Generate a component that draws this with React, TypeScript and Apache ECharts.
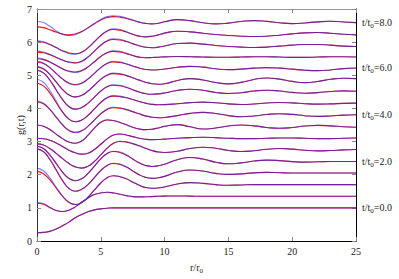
import React, { useEffect, useRef } from 'react';
import * as echarts from 'echarts';

// r/r0 sample positions (half steps up to 10, unit steps after)
const rValues = [0, 0.5, 1, 1.5, 2, 2.5, 3, 3.5, 4, 4.5, 5, 5.5, 6, 6.5, 7, 7.5, 8, 8.5, 9, 9.5, 10,
  11, 12, 13, 14, 15, 16, 17, 18, 19, 20, 21, 22, 23, 24, 25];

// vertical shift of each curve (t/t0 = 0.0, 0.5, ..., 8.0)
const shift = [0, 0.35, 0.7, 1.05, 1.4, 1.75, 2.1, 2.45, 2.8, 3.15, 3.5, 3.85, 4.2, 4.55, 4.9, 5.25, 5.6];

// g(r,t), red set
const gRed = [
  [0.25, 0.26, 0.29, 0.36, 0.46, 0.57, 0.70, 0.80, 0.88, 0.94, 0.97, 0.99, 1.00, 1.00, 1.00, 1.00, 1.00, 1.00, 1.00, 1.00, 1.00, 1.00, 1.00, 1.00, 1.00, 1.00, 1.00, 1.00, 1.00, 1.00, 1.00, 1.00, 1.00, 1.00, 1.00, 1.00],
  [0.79, 0.76, 0.66, 0.57, 0.54, 0.58, 0.68, 0.82, 0.95, 1.05, 1.10, 1.12, 1.10, 1.06, 1.02, 0.99, 0.98, 0.985, 0.99, 1.00, 1.005, 1.01, 1.005, 1.00, 1.00, 1.00, 1.00, 1.00, 1.00, 1.00, 1.00, 1.00, 1.00, 1.00, 1.00, 1.00],
  [1.40, 1.33, 1.15, 0.90, 0.65, 0.47, 0.40, 0.46, 0.62, 0.84, 1.05, 1.21, 1.27, 1.24, 1.175, 1.08, 0.985, 0.915, 0.89, 0.90, 0.93, 1.02, 1.06, 1.04, 1.00, 0.98, 0.99, 1.00, 1.00, 1.00, 1.00, 1.00, 1.00, 1.00, 1.00, 1.00],
  [1.73, 1.645, 1.41, 1.09, 0.77, 0.535, 0.45, 0.51, 0.66, 0.87, 1.08, 1.23, 1.29, 1.26, 1.18, 1.065, 0.95, 0.87, 0.84, 0.857, 0.90, 1.03, 1.09, 1.06, 0.99, 0.96, 0.975, 1.005, 1.02, 1.01, 1.00, 1.00, 1.00, 1.00, 1.00, 1.00],
  [1.46, 1.39, 1.20, 0.94, 0.68, 0.49, 0.42, 0.48, 0.64, 0.86, 1.08, 1.24, 1.30, 1.27, 1.19, 1.075, 0.96, 0.88, 0.85, 0.868, 0.918, 1.053, 1.12, 1.073, 0.978, 0.93, 0.958, 1.013, 1.04, 1.025, 0.995, 0.98, 0.99, 1.00, 1.00, 1.00],
  [1.18, 1.144, 1.043, 0.896, 0.734, 0.587, 0.486, 0.45, 0.503, 0.65, 0.85, 1.05, 1.197, 1.25, 1.234, 1.188, 1.122, 1.048, 0.982, 0.936, 0.92, 0.96, 1.04, 1.08, 1.048, 0.983, 0.95, 0.973, 1.018, 1.04, 1.023, 0.988, 0.97, 0.98, 1.00, 1.01],
  [1.00, 0.985, 0.94, 0.86, 0.75, 0.64, 0.56, 0.52, 0.55, 0.66, 0.82, 0.98, 1.10, 1.13, 1.10, 1.05, 1.00, 0.97, 0.958, 0.962, 0.975, 1.00, 1.02, 1.03, 1.02, 1.00, 0.99, 0.99, 1.00, 1.01, 1.01, 1.00, 0.99, 0.99, 1.00, 1.01],
  [1.05, 1.013, 0.913, 0.775, 0.638, 0.537, 0.50, 0.567, 0.742, 0.958, 1.133, 1.20, 1.18, 1.128, 1.055, 0.983, 0.93, 0.91, 0.924, 0.962, 1.008, 1.06, 0.995, 0.93, 0.96, 1.02, 1.05, 1.025, 0.975, 0.95, 0.973, 1.018, 1.04, 1.025, 0.995, 0.98],
  [1.40, 1.339, 1.17, 0.94, 0.71, 0.54, 0.48, 0.53, 0.665, 0.85, 1.035, 1.17, 1.22, 1.205, 1.164, 1.103, 1.037, 0.976, 0.935, 0.92, 0.928, 0.982, 1.05, 1.08, 1.048, 0.983, 0.95, 0.973, 1.018, 1.04, 1.02, 0.98, 0.96, 0.973, 0.998, 1.01],
  [1.61, 1.532, 1.32, 1.03, 0.74, 0.528, 0.45, 0.501, 0.643, 0.835, 1.028, 1.17, 1.22, 1.207, 1.171, 1.119, 1.061, 1.009, 0.973, 0.96, 0.964, 0.991, 1.025, 1.04, 1.023, 0.988, 0.97, 0.985, 1.015, 1.03, 1.018, 0.993, 0.98, 0.988, 1.003, 1.01],
  [1.65, 1.572, 1.358, 1.065, 0.773, 0.558, 0.48, 0.528, 0.66, 0.84, 1.02, 1.152, 1.20, 1.182, 1.133, 1.065, 0.998, 0.948, 0.93, 0.94, 0.968, 1.043, 1.08, 1.048, 0.983, 0.95, 0.975, 1.025, 1.05, 1.028, 0.983, 0.96, 0.978, 1.013, 1.03, 1.02],
  [1.40, 1.34, 1.175, 0.95, 0.725, 0.56, 0.50, 0.547, 0.675, 0.85, 1.025, 1.153, 1.20, 1.184, 1.14, 1.076, 1.004, 0.94, 0.896, 0.88, 0.896, 0.991, 1.05, 1.01, 0.93, 0.89, 0.935, 1.025, 1.07, 1.035, 0.965, 0.93, 0.963, 1.028, 1.06, 1.05],
  [1.20, 1.155, 1.03, 0.86, 0.69, 0.565, 0.52, 0.565, 0.69, 0.86, 1.03, 1.155, 1.20, 1.184, 1.14, 1.08, 1.02, 0.976, 0.96, 0.967, 0.988, 1.043, 1.07, 1.045, 0.995, 0.97, 0.985, 1.015, 1.03, 1.017, 0.985, 0.953, 0.94, 0.96, 1.00, 1.02],
  [0.95, 0.923, 0.85, 0.75, 0.65, 0.577, 0.55, 0.591, 0.705, 0.86, 1.015, 1.128, 1.17, 1.152, 1.104, 1.046, 0.998, 0.98, 0.985, 0.995, 1.005, 1.015, 1.01, 1.00, 0.995, 0.995, 1.00, 1.01, 1.01, 1.00, 0.99, 0.99, 1.00, 1.01, 1.01, 1.00],
  [0.80, 0.779, 0.72, 0.64, 0.56, 0.501, 0.48, 0.527, 0.655, 0.83, 1.005, 1.133, 1.18, 1.163, 1.118, 1.055, 0.993, 0.947, 0.93, 0.95, 0.985, 1.06, 1.07, 1.04, 1.00, 0.97, 0.95, 0.94, 0.95, 0.98, 1.01, 1.03, 1.03, 1.01, 0.98, 0.97],
  [0.77, 0.745, 0.678, 0.585, 0.493, 0.425, 0.40, 0.449, 0.583, 0.765, 0.948, 1.081, 1.13, 1.109, 1.054, 0.986, 0.931, 0.91, 0.926, 0.969, 1.021, 1.08, 1.06, 1.02, 0.98, 0.95, 0.93, 0.92, 0.93, 0.96, 1.00, 1.03, 1.04, 1.02, 0.99, 0.97],
  [0.86, 0.837, 0.777, 0.703, 0.643, 0.62, 0.647, 0.723, 0.834, 0.956, 1.067, 1.143, 1.17, 1.155, 1.115, 1.06, 1.005, 0.965, 0.95, 0.969, 1.015, 1.08, 1.048, 0.983, 0.95, 0.975, 1.025, 1.05, 1.028, 0.983, 0.96, 0.978, 1.013, 1.03, 1.01, 0.99],
];

// g(r,t), blue set
const gBlue = [
  [0.25, 0.26, 0.29, 0.36, 0.46, 0.57, 0.70, 0.80, 0.88, 0.94, 0.97, 0.99, 1.00, 1.00, 1.00, 1.00, 1.00, 1.00, 1.00, 1.00, 1.00, 1.00, 1.00, 1.00, 1.00, 1.00, 1.00, 1.00, 1.00, 1.00, 1.00, 1.00, 1.00, 1.00, 1.00, 1.00],
  [0.81, 0.78, 0.67, 0.57, 0.54, 0.58, 0.68, 0.82, 0.95, 1.05, 1.10, 1.12, 1.10, 1.06, 1.02, 0.99, 0.98, 0.985, 0.99, 1.00, 1.005, 1.01, 1.005, 1.00, 1.00, 1.00, 1.00, 1.00, 1.00, 1.00, 1.00, 1.00, 1.00, 1.00, 1.00, 1.00],
  [1.50, 1.42, 1.21, 0.93, 0.66, 0.47, 0.40, 0.46, 0.62, 0.84, 1.05, 1.21, 1.27, 1.24, 1.175, 1.08, 0.985, 0.915, 0.89, 0.90, 0.93, 1.02, 1.06, 1.04, 1.00, 0.98, 0.99, 1.00, 1.00, 1.00, 1.00, 1.00, 1.00, 1.00, 1.00, 1.00],
  [1.73, 1.65, 1.43, 1.11, 0.785, 0.54, 0.45, 0.50, 0.645, 0.855, 1.07, 1.23, 1.295, 1.27, 1.19, 1.065, 0.95, 0.87, 0.84, 0.857, 0.90, 1.03, 1.09, 1.06, 0.99, 0.96, 0.975, 1.005, 1.02, 1.01, 1.00, 1.00, 1.00, 1.00, 1.00, 1.00],
  [1.46, 1.39, 1.20, 0.94, 0.68, 0.49, 0.42, 0.48, 0.64, 0.86, 1.08, 1.24, 1.31, 1.285, 1.20, 1.075, 0.96, 0.88, 0.85, 0.868, 0.918, 1.053, 1.12, 1.073, 0.978, 0.93, 0.958, 1.013, 1.04, 1.025, 0.995, 0.98, 0.99, 1.00, 1.00, 1.00],
  [1.18, 1.144, 1.043, 0.896, 0.734, 0.587, 0.486, 0.45, 0.503, 0.65, 0.85, 1.05, 1.197, 1.26, 1.245, 1.188, 1.122, 1.048, 0.982, 0.936, 0.92, 0.96, 1.04, 1.08, 1.048, 0.983, 0.95, 0.973, 1.018, 1.04, 1.023, 0.988, 0.97, 0.98, 1.00, 1.01],
  [1.00, 0.985, 0.94, 0.86, 0.75, 0.64, 0.56, 0.52, 0.55, 0.66, 0.82, 0.98, 1.10, 1.13, 1.10, 1.05, 1.00, 0.97, 0.958, 0.962, 0.975, 1.00, 1.02, 1.03, 1.02, 1.00, 0.99, 0.99, 1.00, 1.01, 1.01, 1.00, 0.99, 0.99, 1.00, 1.01],
  [1.05, 1.013, 0.913, 0.775, 0.638, 0.537, 0.50, 0.567, 0.742, 0.958, 1.133, 1.21, 1.185, 1.128, 1.055, 0.983, 0.93, 0.91, 0.924, 0.962, 1.008, 1.06, 0.995, 0.93, 0.96, 1.02, 1.05, 1.025, 0.975, 0.95, 0.973, 1.018, 1.04, 1.025, 0.995, 0.98],
  [1.42, 1.36, 1.18, 0.94, 0.70, 0.53, 0.47, 0.52, 0.66, 0.85, 1.04, 1.18, 1.235, 1.22, 1.17, 1.103, 1.037, 0.976, 0.935, 0.92, 0.928, 0.982, 1.05, 1.08, 1.048, 0.983, 0.95, 0.973, 1.018, 1.04, 1.02, 0.98, 0.96, 0.973, 0.998, 1.01],
  [1.73, 1.64, 1.40, 1.07, 0.755, 0.53, 0.45, 0.50, 0.64, 0.835, 1.03, 1.18, 1.235, 1.22, 1.178, 1.119, 1.061, 1.009, 0.973, 0.96, 0.964, 0.991, 1.025, 1.04, 1.023, 0.988, 0.97, 0.985, 1.015, 1.03, 1.018, 0.993, 0.98, 0.988, 1.003, 1.01],
  [1.66, 1.58, 1.36, 1.06, 0.765, 0.55, 0.47, 0.52, 0.655, 0.84, 1.025, 1.16, 1.215, 1.20, 1.14, 1.065, 0.998, 0.948, 0.93, 0.94, 0.968, 1.043, 1.08, 1.048, 0.983, 0.95, 0.975, 1.025, 1.05, 1.028, 0.983, 0.96, 0.978, 1.013, 1.03, 1.02],
  [1.42, 1.355, 1.18, 0.95, 0.72, 0.555, 0.49, 0.54, 0.67, 0.85, 1.03, 1.16, 1.215, 1.196, 1.148, 1.076, 1.004, 0.94, 0.896, 0.88, 0.896, 0.991, 1.05, 1.01, 0.93, 0.89, 0.935, 1.025, 1.07, 1.035, 0.965, 0.93, 0.963, 1.028, 1.06, 1.05],
  [1.22, 1.17, 1.035, 0.86, 0.685, 0.555, 0.505, 0.555, 0.685, 0.86, 1.035, 1.165, 1.22, 1.205, 1.15, 1.08, 1.02, 0.976, 0.96, 0.967, 0.988, 1.043, 1.07, 1.045, 0.995, 0.97, 0.985, 1.015, 1.03, 1.017, 0.985, 0.953, 0.94, 0.96, 1.00, 1.02],
  [0.97, 0.94, 0.86, 0.75, 0.645, 0.565, 0.535, 0.58, 0.70, 0.86, 1.02, 1.14, 1.19, 1.172, 1.115, 1.046, 0.998, 0.98, 0.985, 0.995, 1.005, 1.015, 1.01, 1.00, 0.995, 0.995, 1.00, 1.01, 1.01, 1.00, 0.99, 0.99, 1.00, 1.01, 1.01, 1.00],
  [0.83, 0.805, 0.735, 0.645, 0.555, 0.49, 0.465, 0.515, 0.65, 0.83, 1.01, 1.145, 1.20, 1.185, 1.13, 1.055, 0.993, 0.947, 0.93, 0.95, 0.985, 1.06, 1.07, 1.04, 1.00, 0.97, 0.95, 0.94, 0.95, 0.98, 1.01, 1.03, 1.03, 1.01, 0.98, 0.97],
  [0.79, 0.76, 0.685, 0.585, 0.485, 0.41, 0.385, 0.435, 0.575, 0.765, 0.955, 1.095, 1.15, 1.13, 1.065, 0.986, 0.931, 0.91, 0.926, 0.969, 1.021, 1.08, 1.06, 1.02, 0.98, 0.95, 0.93, 0.92, 0.93, 0.96, 1.00, 1.03, 1.04, 1.02, 0.99, 0.97],
  [1.03, 0.99, 0.88, 0.74, 0.635, 0.60, 0.625, 0.71, 0.83, 0.965, 1.085, 1.17, 1.195, 1.18, 1.13, 1.07, 1.005, 0.965, 0.95, 0.969, 1.015, 1.08, 1.048, 0.983, 0.95, 0.975, 1.025, 1.05, 1.028, 0.983, 0.96, 0.978, 1.013, 1.03, 1.01, 0.99],
];

// curves carrying a t/t0 label and their label values
const labelCurves = [0, 4, 8, 12, 16];
const labelTimes = ['0.0', '2.0', '4.0', '6.0', '8.0'];

const FONT = "'Liberation Serif', 'DejaVu Serif', serif";
const TEXT = '#222';

const rich = {
  n: { fontFamily: FONT, fontSize: 10, color: TEXT, lineHeight: 14 },
  s: { fontFamily: FONT, fontSize: 7, color: TEXT, lineHeight: 8, verticalAlign: 'bottom' },
};

export default function App() {
  const ref = useRef<HTMLDivElement>(null);
  useEffect(() => {
    document.body.style.margin = '0';
    if (!ref.current) return;
    const chart = echarts.init(ref.current, undefined, { renderer: 'svg' });

    const series: any[] = [];
    gRed.forEach((g, i) => {
      const li = labelCurves.indexOf(i);
      series.push({
        type: 'line',
        xAxisIndex: 0,
        yAxisIndex: 0,
        data: rValues.map((r, k) => [r, g[k] + shift[i]]),
        smooth: 0.5,
        symbol: 'none',
        silent: true,
        lineStyle: { color: '#ee1111', width: 1.1 },
        endLabel: li >= 0
          ? { show: true, distance: 6, formatter: `{n|t/t}{s|0}{n|=${labelTimes[li]}}`, rich }
          : { show: false },
      });
    });
    gBlue.forEach((g, i) => {
      series.push({
        type: 'line',
        xAxisIndex: 0,
        yAxisIndex: 0,
        data: rValues.map((r, k) => [r, g[k] + shift[i]]),
        smooth: 0.5,
        symbol: 'none',
        silent: true,
        lineStyle: { color: '#2a2aff', width: 1.1, opacity: 0.6 },
      });
    });

    const tickStyle = { color: '#888', width: 1 };
    chart.setOption({
      animation: false,
      backgroundColor: '#fff',
      grid: { left: 37, right: 43, top: 9, bottom: 36, containLabel: false },
      xAxis: [
        {
          type: 'value', min: 0, max: 25, interval: 5, position: 'bottom',
          axisLine: { show: true, onZero: false, lineStyle: { color: '#000', width: 1 } },
          axisTick: { show: true, inside: true, length: 4, lineStyle: tickStyle },
          axisLabel: { fontFamily: FONT, fontSize: 10, color: TEXT, margin: 5 },
          splitLine: { show: false },
          name: '{n|r/r}{s|0}', nameLocation: 'middle', nameGap: 19,
          nameMoveOverlap: false,
          nameTextStyle: { rich },
        },
        {
          type: 'value', min: 0, max: 25, interval: 5, position: 'top',
          axisLine: { show: true, onZero: false, lineStyle: { color: '#999', width: 1 } },
          axisTick: { show: true, inside: true, length: 4, lineStyle: tickStyle },
          axisLabel: { show: false },
          splitLine: { show: false },
        },
      ],
      yAxis: [
        {
          type: 'value', min: 0, max: 7, interval: 1, position: 'left',
          axisLine: { show: true, onZero: false, lineStyle: { color: '#333', width: 1 } },
          axisTick: { show: true, inside: true, length: 4, lineStyle: tickStyle },
          axisLabel: { fontFamily: FONT, fontSize: 10, color: TEXT, margin: 5 },
          splitLine: { show: false },
          name: 'g(r,t)', nameLocation: 'middle', nameGap: 12, nameRotate: 90,
          nameMoveOverlap: false,
          nameTextStyle: { fontFamily: FONT, fontSize: 10, color: TEXT },
        },
        {
          type: 'value', min: 0, max: 7, interval: 1, position: 'right',
          axisLine: { show: true, onZero: false, lineStyle: { color: '#000', width: 1 } },
          axisTick: { show: true, inside: true, length: 4, lineStyle: tickStyle },
          axisLabel: { show: false },
          splitLine: { show: false },
        },
      ],
      series,
    });
    return () => chart.dispose();
  }, []);
  return <div ref={ref} style={{ width: 399, height: 279 }} />;
}
